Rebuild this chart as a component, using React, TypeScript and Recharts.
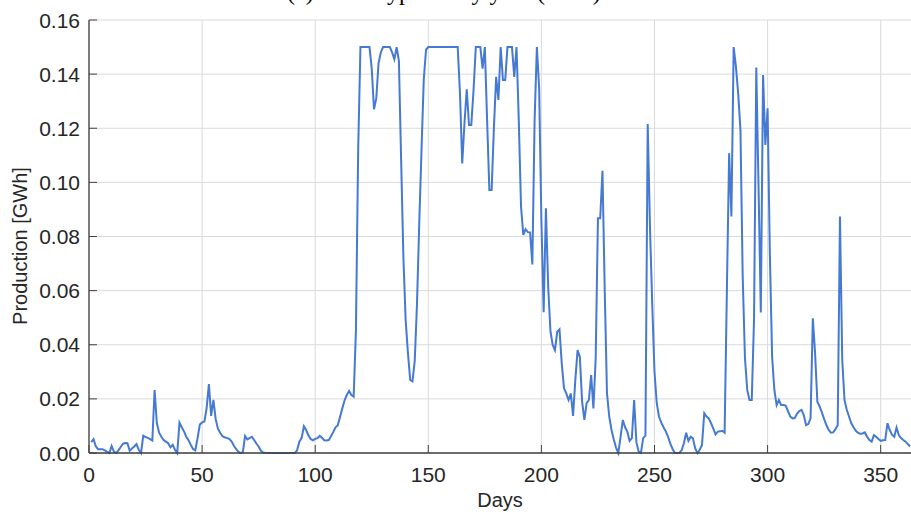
import React from 'react';
import { LineChart, Line, XAxis, YAxis, CartesianGrid } from 'recharts';

// Daily production [GWh], day 1 .. 363
const production: number[] = [
  0.0040, 0.0051, 0.0025, 0.0014, 0.0014, 0.0014, 0.0010, 0.0004, 0.0000, 0.0026,
  0.0005, 0.0000, 0.0010, 0.0022, 0.0034, 0.0037, 0.0036, 0.0008, 0.0017, 0.0024,
  0.0033, 0.0012, 0.0000, 0.0064, 0.0059, 0.0056, 0.0051, 0.0046, 0.0233, 0.0110,
  0.0075, 0.0060, 0.0048, 0.0042, 0.0036, 0.0021, 0.0030, 0.0012, 0.0000, 0.0112,
  0.0095, 0.0080, 0.0060, 0.0047, 0.0030, 0.0015, 0.0010, 0.0055, 0.0105, 0.0113,
  0.0116, 0.0165, 0.0255, 0.0137, 0.0196, 0.0125, 0.0090, 0.0075, 0.0062, 0.0058,
  0.0055, 0.0052, 0.0043, 0.0028, 0.0015, 0.0005, 0.0000, 0.0002, 0.0063, 0.0050,
  0.0055, 0.0060, 0.0048, 0.0035, 0.0024, 0.0008, 0.0002, 0.0000, 0.0000, 0.0000,
  0.0000, 0.0000, 0.0000, 0.0000, 0.0000, 0.0000, 0.0000, 0.0000, 0.0000, 0.0000,
  0.0000, 0.0010, 0.0042, 0.0055, 0.0099, 0.0085, 0.0065, 0.0052, 0.0047, 0.0052,
  0.0055, 0.0063, 0.0056, 0.0047, 0.0046, 0.0048, 0.0062, 0.0078, 0.0095, 0.0103,
  0.0134, 0.0165, 0.0195, 0.0215, 0.0229, 0.0214, 0.0208, 0.0450, 0.1120, 0.1500,
  0.1500, 0.1500, 0.1500, 0.1500, 0.1420, 0.1270, 0.1310, 0.1440, 0.1480, 0.1500,
  0.1500, 0.1500, 0.1500, 0.1480, 0.1455, 0.1500, 0.1450, 0.1080, 0.0720, 0.0490,
  0.0370, 0.0270, 0.0265, 0.0340, 0.0550, 0.0850, 0.1120, 0.1380, 0.1490, 0.1500,
  0.1500, 0.1500, 0.1500, 0.1500, 0.1500, 0.1500, 0.1500, 0.1500, 0.1500, 0.1500,
  0.1500, 0.1500, 0.1500, 0.1330, 0.1070, 0.1220, 0.1344, 0.1212, 0.1212, 0.1340,
  0.1500, 0.1500, 0.1500, 0.1420, 0.1500, 0.1230, 0.0972, 0.0972, 0.1200, 0.1390,
  0.1305, 0.1500, 0.1378, 0.1378, 0.1500, 0.1500, 0.1500, 0.1390, 0.1500, 0.1230,
  0.0910, 0.0806, 0.0827, 0.0816, 0.0815, 0.0697, 0.1230, 0.1500, 0.1350, 0.0860,
  0.0520, 0.0904, 0.0615, 0.0450, 0.0399, 0.0380, 0.0448, 0.0457, 0.0331, 0.0239,
  0.0220, 0.0196, 0.0220, 0.0137, 0.0270, 0.0380, 0.0355, 0.0190, 0.0122, 0.0184,
  0.0196, 0.0288, 0.0165, 0.0350, 0.0867, 0.0867, 0.1043, 0.0600, 0.0220, 0.0134,
  0.0085, 0.0050, 0.0020, 0.0000, 0.0060, 0.0122, 0.0095, 0.0078, 0.0045, 0.0055,
  0.0196, 0.0040, 0.0005, 0.0000, 0.0055, 0.0064, 0.1216, 0.0836, 0.0550, 0.0300,
  0.0184, 0.0134, 0.0112, 0.0095, 0.0080, 0.0060, 0.0035, 0.0015, 0.0000, 0.0000,
  0.0000, 0.0010, 0.0036, 0.0075, 0.0045, 0.0060, 0.0054, 0.0017, 0.0000, 0.0012,
  0.0030, 0.0147, 0.0135, 0.0128, 0.0110, 0.0090, 0.0069, 0.0079, 0.0080, 0.0082,
  0.0075, 0.0600, 0.1108, 0.0874, 0.1500, 0.1428, 0.1329, 0.1194, 0.0650, 0.0350,
  0.0233, 0.0196, 0.0196, 0.0492, 0.1424, 0.0984, 0.0519, 0.1397, 0.1138, 0.1274,
  0.0738, 0.0356, 0.0233, 0.0177, 0.0196, 0.0177, 0.0177, 0.0175, 0.0155, 0.0135,
  0.0128, 0.0129, 0.0145, 0.0155, 0.0159, 0.0140, 0.0103, 0.0107, 0.0128, 0.0498,
  0.0368, 0.0189, 0.0172, 0.0150, 0.0125, 0.0103, 0.0085, 0.0075, 0.0076, 0.0088,
  0.0103, 0.0874, 0.0344, 0.0196, 0.0160, 0.0135, 0.0110, 0.0095, 0.0082, 0.0074,
  0.0071, 0.0072, 0.0076, 0.0060, 0.0048, 0.0042, 0.0066, 0.0060, 0.0052, 0.0045,
  0.0047, 0.0048, 0.0110, 0.0085, 0.0068, 0.0060, 0.0094, 0.0066, 0.0055, 0.0048,
  0.0042, 0.0033, 0.0024,
];
const firstDay = 1;

const xTicks = [0, 50, 100, 150, 200, 250, 300, 350];
const yTicks = [0, 0.02, 0.04, 0.06, 0.08, 0.1, 0.12, 0.14, 0.16];

const titleText = '(a) Mean typical dry year (2017)';
const xLabel = 'Days';
const yLabel = 'Production [GWh]';

const data = production.map((v, i) => ({ day: firstDay + i, value: v }));

const FONT = "'Liberation Sans', Arial, Helvetica, sans-serif";
const TEXT = '#262626';
const AXIS = '#404040';

const XTick = (props: any) => {
  const { x, y, payload } = props;
  return (
    <g>
      <line x1={x} y1={y} x2={x} y2={y - 8} stroke={AXIS} strokeWidth={1} />
      <text x={x} y={y + 29} textAnchor="middle" fontSize={21} fill={TEXT} fontFamily={FONT}>
        {payload.value}
      </text>
    </g>
  );
};

const YTick = (props: any) => {
  const { x, y, payload } = props;
  return (
    <g>
      <line x1={x} y1={y} x2={x + 8} y2={y} stroke={AXIS} strokeWidth={1} />
      <text x={x - 9} y={y + 7.5} textAnchor="end" fontSize={21} fill={TEXT} fontFamily={FONT}>
        {Number(payload.value).toFixed(2)}
      </text>
    </g>
  );
};

export default function App() {
  return (
    <div style={{ position: 'absolute', left: 0, top: 0, width: 911, height: 515, background: '#fff' }}>
      <svg style={{ position: 'absolute', left: 0, top: 0 }} width={911} height={30}>
        <text x={287} y={-0.5} fontFamily="'Liberation Serif', 'Times New Roman', serif" fontSize={24} fill="#000">
          {titleText}
        </text>
      </svg>
      <LineChart
        width={911}
        height={515}
        data={data}
        margin={{ top: 20, right: 0, bottom: 0, left: 0 }}
      >
        <CartesianGrid stroke="#dadada" strokeWidth={1} horizontalValues={yTicks} verticalValues={xTicks} />
        <XAxis
          dataKey="day"
          type="number"
          domain={[0, 363.4]}
          ticks={xTicks}
          allowDataOverflow
          height={62}
          tickSize={0}
          tickMargin={0}
          tickLine={false}
          axisLine={{ stroke: AXIS, strokeWidth: 1.3 }}
          tick={<XTick />}
          interval={0}
          label={{ value: xLabel, position: 'insideBottom', offset: 8, fontSize: 20, fill: TEXT, fontFamily: FONT }}
        />
        <YAxis
          type="number"
          domain={[0, 0.16]}
          ticks={yTicks}
          width={89}
          tickSize={0}
          tickMargin={0}
          tickLine={false}
          axisLine={{ stroke: AXIS, strokeWidth: 1.3 }}
          tick={<YTick />}
          interval={0}
          label={{
            content: () => (
              <text
                transform="translate(27, 246) rotate(-90)"
                textAnchor="middle"
                fontSize={20}
                fill={TEXT}
                fontFamily={FONT}
              >
                {yLabel}
              </text>
            ),
          }}
        />
        <Line
          type="linear"
          dataKey="value"
          stroke="#4579d3"
          strokeWidth={2}
          dot={false}
          isAnimationActive={false}
        />
      </LineChart>
    </div>
  );
}
